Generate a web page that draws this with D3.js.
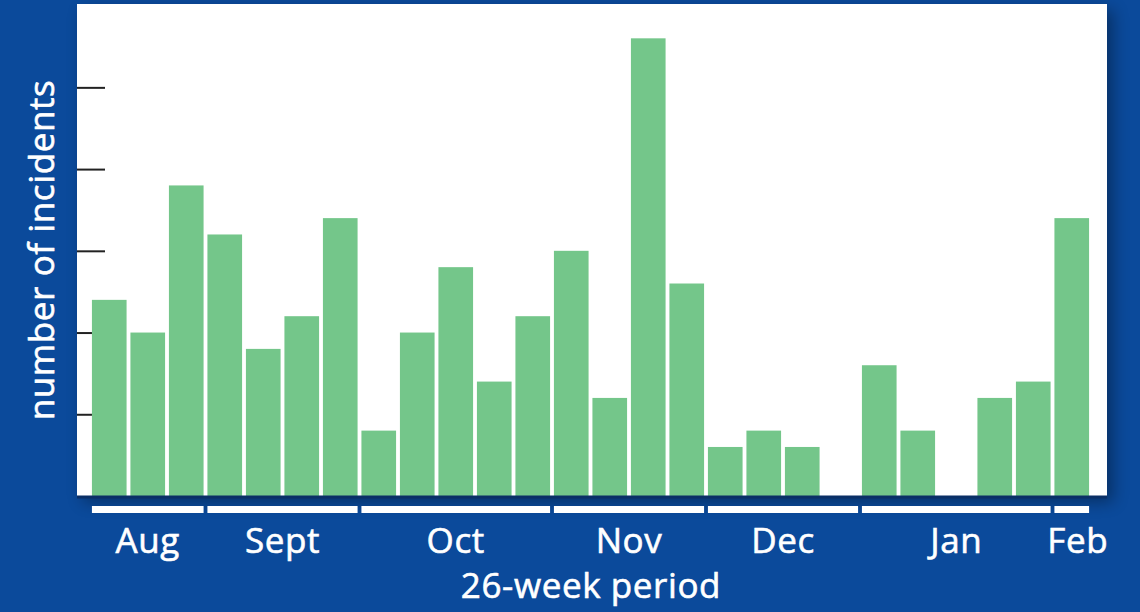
<!DOCTYPE html>
<html>
<head>
<meta charset="utf-8">
<script src="https://cdn.jsdelivr.net/npm/d3@7"></script>
<style>
  body { margin: 0; background: #0b4a9b; }
  svg { display: block; }
</style>
</head>
<body>
<div id="chart"></div>
<script>
// incidents per week, 26 weeks from August to February
var weeks     = d3.range(1, 27);
var incidents = [12, 10, 19, 16, 9, 11, 17, 4, 10, 14, 7, 11, 15, 6, 28, 13, 3, 4, 3, 0, 8, 4, 0, 6, 7, 17];
var months     = ["Aug", "Sept", "Oct", "Nov", "Dec", "Jan", "Feb"];
var monthWeeks = [3, 4, 5, 4, 4, 5, 1];
var yTicks     = [5, 10, 15, 20, 25];

var width = 1140, height = 612;
var font = "'Open Sans', 'Noto Sans', sans-serif";
var svg = d3.select("#chart").append("svg")
  .attr("width", width)
  .attr("height", height);

var defs = svg.append("defs");
var shadow = defs.append("filter").attr("id", "shadow")
  .attr("x", "-5%").attr("y", "-5%").attr("width", "115%").attr("height", "125%");
shadow.append("feGaussianBlur").attr("in", "SourceAlpha").attr("stdDeviation", 8);
shadow.append("feOffset").attr("dx", 6).attr("dy", 6).attr("result", "blur");
var merge = shadow.append("feMerge");
merge.append("feMergeNode").attr("in", "blur");
merge.append("feMergeNode").attr("in", "SourceGraphic");

svg.append("rect")
  .attr("width", width).attr("height", height)
  .attr("fill", "#0b4a9b");

var plot = { left: 77, top: 4, right: 1107, bottom: 496 };

var x = d3.scaleBand()
  .domain(weeks)
  .range([90, 1091])
  .paddingInner(0.1)
  .paddingOuter(0.05);

var y = d3.scaleLinear()
  .domain([0, 30.1])
  .range([plot.bottom, plot.top]);

// white panel with soft shadow
svg.append("rect")
  .attr("x", plot.left)
  .attr("y", plot.top)
  .attr("width", plot.right - plot.left)
  .attr("height", plot.bottom - plot.top)
  .attr("fill", "white")
  .attr("filter", "url(#shadow)")
  .attr("opacity", 0.35);
svg.append("rect")
  .attr("x", plot.left)
  .attr("y", plot.top)
  .attr("width", plot.right - plot.left)
  .attr("height", plot.bottom - plot.top)
  .attr("fill", "white");

// y ticks, no labels
var yAxis = d3.axisRight(y).tickValues(yTicks).tickSize(28).tickFormat("");
var ya = svg.append("g")
  .attr("class", "y_axis")
  .attr("transform", "translate(" + plot.left + ",0)")
  .call(yAxis);
ya.select(".domain").remove();
ya.selectAll("line").attr("stroke", "#222").attr("stroke-width", 2);

svg.selectAll("rect.bar")
  .data(incidents)
  .enter()
  .append("rect")
  .attr("class", "bar")
  .attr("x", function(d, i) { return x(weeks[i]); })
  .attr("y", function(d) { return y(d); })
  .attr("width", x.bandwidth())
  .attr("height", function(d) { return plot.bottom - y(d); })
  .attr("fill", "#74c68a");

// bottom edge of panel
svg.append("line")
  .attr("x1", plot.left).attr("x2", plot.right)
  .attr("y1", plot.bottom + 1).attr("y2", plot.bottom + 1)
  .attr("stroke", "#0a2f66").attr("stroke-width", 3);

// month brackets
var spans = [];
var w0 = 0;
months.forEach(function(m, i) {
  spans.push({ name: m, first: weeks[w0], last: weeks[w0 + monthWeeks[i] - 1] });
  w0 += monthWeeks[i];
});

var mg = svg.append("g").attr("class", "months");
mg.selectAll("rect")
  .data(spans)
  .enter()
  .append("rect")
  .attr("x", function(d) { return x(d.first); })
  .attr("y", 506)
  .attr("width", function(d) { return x(d.last) + x.bandwidth() - x(d.first); })
  .attr("height", 7)
  .attr("fill", "white");

function label(sel) {
  sel.attr("fill", "white")
    .attr("stroke", "white")
    .attr("stroke-width", 0.6)
    .attr("font-family", font)
    .attr("font-size", 35)
    .attr("letter-spacing", 0.6)
    .attr("text-anchor", "middle");
}

mg.selectAll("text")
  .data(spans)
  .enter()
  .append("text")
  .attr("x", function(d, i) {
    var c = (x(d.first) + x(d.last) + x.bandwidth()) / 2;
    return i == spans.length - 1 ? c + 6 : c;
  })
  .attr("y", 553)
  .call(label)
  .text(function(d) { return d.name; });

svg.append("text")
  .attr("x", 591)
  .attr("y", 598)
  .call(label)
  .text("26-week period");

svg.append("text")
  .attr("transform", "translate(54,250) rotate(-90)")
  .call(label)
  .text("number of incidents");
</script>
</body>
</html>
